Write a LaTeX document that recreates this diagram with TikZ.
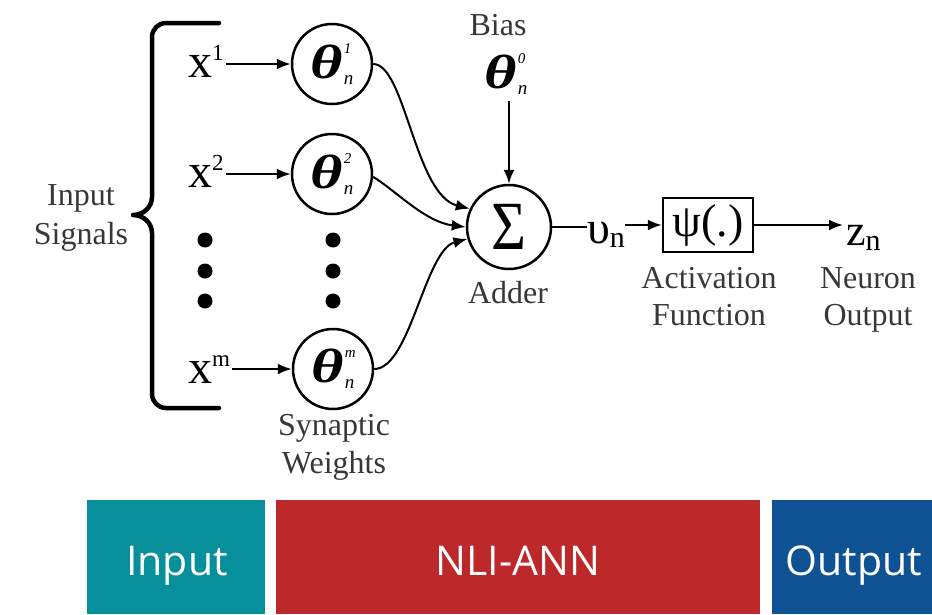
\documentclass[tikz,border=0pt]{standalone}
\usepackage{fontspec}
\setmainfont{Liberation Serif}
\newfontfamily\barfont{Open Sans}
\usetikzlibrary{arrows.meta}

\definecolor{lblgray}{RGB}{55,55,55}
\definecolor{barteal}{RGB}{8,143,156}
\definecolor{barred}{RGB}{189,40,43}
\definecolor{barblue}{RGB}{14,82,147}

% weight symbol: bold italic theta with a superscript index and subscript n
\newcommand\wsym[1]{\scalebox{1.3}[1]{\fontsize{48}{48}\selectfont\bfseries\itshape θ}\kern1pt\rlap{\raisebox{25pt}{\fontsize{15}{15}\selectfont\itshape #1}}\raisebox{-6pt}{\fontsize{19}{19}\selectfont\itshape n}}
% input symbol x with superscript
\newcommand\xin[1]{{\fontsize{48}{48}\selectfont x}\raisebox{17pt}{\fontsize{23}{23}\selectfont #1}}

\begin{document}
\begin{tikzpicture}[x=1pt,y=-1pt,
  lbl/.style={text=lblgray,font=\fontsize{32}{32}\selectfont,inner sep=0pt,anchor=base},
  inp/.style={inner sep=0pt,anchor=base west},
  wcirc/.style={circle,draw,line width=2.5pt,minimum size=80pt,inner sep=0pt},
  arr/.style={line width=2pt,-{Latex[length=14pt,width=11pt]}},
  plain/.style={line width=2pt},
  dotn/.style={circle,fill,minimum size=15pt,inner sep=0pt},
  bar/.style={rectangle,draw=none,inner sep=0pt,outer sep=0pt},
  bartext/.style={text=white,font=\barfont\fontsize{41}{41}\selectfont,inner sep=0pt,anchor=base}
]
\useasboundingbox (0,0) rectangle (932,614);

% curly brace grouping the inputs
\draw[line width=4.5pt,line cap=round,line join=round]
  (219,23) -- (166,23) to[out=180,in=90] (152,37) -- (152,197)
  to[out=-90,in=0] (133,215) to[out=0,in=90] (152,233) -- (152,394)
  to[out=-90,in=180] (166,408) -- (219,408);
\node[lbl] (inA) at (81,205) {Input};
\node[lbl] (inB) at (81,244) {Signals};

% inputs
\node[inp] (xa) at (188,77) {\xin{1}};
\node[inp] (xb) at (188,187) {\xin{2}};
\node[inp] (xm) at (188,383) {\xin{m}};

% synaptic weights
\node[wcirc] (w1) at (332,64) {\raisebox{-3pt}{\wsym{1}}};
\node[wcirc] (w2) at (332,174) {\raisebox{-3pt}{\wsym{2}}};
\node[wcirc] (wm) at (333,369) {\raisebox{-3pt}{\wsym{m}}};

\draw[arr] ([xshift=2pt]xa.east |- w1) -- (w1);
\draw[arr] ([xshift=2pt]xb.east |- w2) -- (w2);
\draw[arr] ([xshift=2pt]xm.east |- wm) -- (wm);

% ellipsis dots
\node[dotn] (da1) at (205,240) {};
\node[dotn] (da2) at (205,271) {};
\node[dotn] (da3) at (205,301) {};
\node[dotn] (db1) at (333,240) {};
\node[dotn] (db2) at (333,271) {};
\node[dotn] (db3) at (333,301) {};

\node[lbl] (synA) at (334,435) {Synaptic};
\node[lbl] (synB) at (334,473) {Weights};

% adder
\node[circle,draw,line width=2.5pt,minimum size=84pt,inner sep=0pt] (sum) at (509,227)
  {\scalebox{1}[1.15]{\fontsize{60}{60}\selectfont Σ}};
\node[lbl] (adder) at (508,303) {Adder};

% bias
\node[lbl] (bias) at (498,35) {Bias};
\node[inner sep=0pt] (w0) at (506,74) {\wsym{0}};
\draw[arr] (w0.south -| sum.north) ++(0,6) -- (sum.north);

% weighted inputs into the adder
\draw[arr] (w1.east) .. controls (405,64) and (415,195) .. (sum.155);
\draw[arr] (w2.-4) .. controls (395,190) and (425,222) .. (sum.180);
\draw[arr] (wm.east) .. controls (410,369) and (425,250) .. (sum.196);

% induced field
\node[inp] (ups) at (587,243) {{\fontsize{46}{46}\selectfont υ}\raisebox{-4pt}{\fontsize{30}{30}\selectfont n}};
\draw[plain] (sum.east) -- (ups.west |- sum.east);

% activation function
\node[rectangle,draw,line width=2.5pt,minimum width=90pt,minimum height=54pt,inner sep=0pt] (act) at (708,225)
  {\fontsize{46}{46}\selectfont ψ(.)};
\draw[arr] (ups.east |- act.west) -- (act.west);
\node[lbl] (actA) at (709,288) {Activation};
\node[lbl] (actB) at (709,325) {Function};

% output
\node[inp] (zout) at (846,245) {{\fontsize{44}{44}\selectfont z}\raisebox{-5pt}{\fontsize{30}{30}\selectfont n}};
\draw[arr] (act.east) -- ([xshift=-3pt]zout.west |- act.east);
\node[lbl] (outA) at (868,288) {Neuron};
\node[lbl] (outB) at (868,325) {Output};

% stage bars
\node[bar,fill=barteal,minimum width=178pt,minimum height=114pt] (inbar) at (176,557) {};
\node[bar,fill=barred,minimum width=484pt,minimum height=114pt] (annbar) at (518,557) {};
\node[bar,fill=barblue,minimum width=160pt,minimum height=114pt] (outbar) at (852,557) {};
\node[bartext] (inbarT) at (177,575) {Input};
\node[bartext] (annbarT) at (518,575) {NLI-ANN};
\node[bartext] (outbarT) at (854,575) {Output};
\end{tikzpicture}
\end{document}
